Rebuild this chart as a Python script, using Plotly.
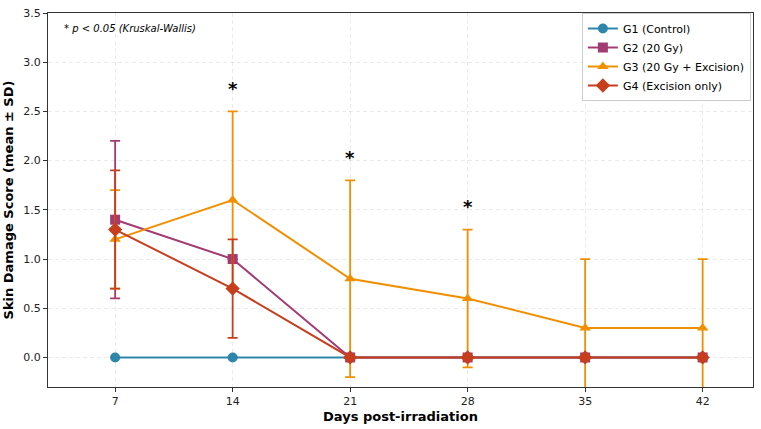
import plotly.graph_objects as go

days = [7, 14, 21, 28, 35, 42]
g1_mean = [0, 0, 0, 0, 0, 0]
g1_sd = [0, 0, 0, 0, 0, 0]
g2_mean = [1.4, 1.0, 0, 0, 0, 0]
g2_sd = [0.8, 0.0, 0, 0, 0, 0]
g3_mean = [1.2, 1.6, 0.8, 0.6, 0.3, 0.3]
g3_sd = [0.5, 0.9, 1.0, 0.7, 0.7, 0.7]
g4_mean = [1.3, 0.7, 0, 0, 0, 0]
g4_sd = [0.6, 0.5, 0, 0, 0, 0]
sig_days = [14, 21, 28]
sig_y = [2.7, 2.0, 1.5]

series = [
    ("G1 (Control)", g1_mean, g1_sd, "#2E86AB", "circle"),
    ("G2 (20 Gy)", g2_mean, g2_sd, "#A23B72", "square"),
    ("G3 (20 Gy + Excision)", g3_mean, g3_sd, "#F18F01", "triangle-up"),
    ("G4 (Excision only)", g4_mean, g4_sd, "#C73E1D", "diamond"),
]

fig = go.Figure()
for name, m, sd, col, sym in series:
    fig.add_trace(go.Scatter(
        x=days, y=m, name=name, mode="lines+markers",
        line=dict(color=col, width=2),
        marker=dict(color=col, symbol=sym, size=10 if sym != "diamond" else 11),
        error_y=dict(type="data", array=sd, visible=True, color=col,
                     thickness=1.8, width=5),
    ))

for d, yv in zip(sig_days, sig_y):
    fig.add_annotation(x=d, y=yv, text="<b>*</b>", showarrow=False,
                       yanchor="bottom", yshift=-9,
                       font=dict(size=18, color="black", family="DejaVu Sans"))

fig.add_annotation(xref="paper", yref="paper", x=0.02, y=0.978,
                   xanchor="left", yanchor="top", showarrow=False,
                   text="<i>* p < 0.05 (Kruskal-Wallis)</i>",
                   font=dict(size=10, color="black", family="DejaVu Sans"))

axis_common = dict(
    showline=True, linecolor="#333333", linewidth=1.2, mirror=True,
    ticks="outside", ticklen=4, tickcolor="#333333",
    showgrid=True, gridcolor="rgba(0,0,0,0.08)", griddash="4px,3px", gridwidth=0.8,
    zeroline=False, tickfont=dict(size=11, color="#222222", family="DejaVu Sans"),
)

fig.update_layout(
    width=761, height=429,
    margin=dict(l=48, r=7, t=8, b=42),
    paper_bgcolor="white", plot_bgcolor="white",
    font=dict(family="DejaVu Sans", color="black"),
    xaxis=dict(range=[3, 45], tickvals=days, ticktext=[str(d) for d in days],
               title=dict(text="<b>Days post-irradiation</b>", font=dict(size=13), standoff=4),
               **axis_common),
    yaxis=dict(range=[-0.3, 3.5], dtick=0.5, tickformat=".1f",
               title=dict(text="<b>Skin Damage Score (mean ± SD)</b>", font=dict(size=13), standoff=6),
               **axis_common),
    legend=dict(x=0.997, y=1.0, xanchor="right", yanchor="top",
                bgcolor="rgba(255,255,255,0.9)", bordercolor="#cccccc", borderwidth=1,
                font=dict(size=11, family="DejaVu Sans"), tracegroupgap=0,
                itemwidth=30),
    showlegend=True,
)

fig.write_html("out.html")
